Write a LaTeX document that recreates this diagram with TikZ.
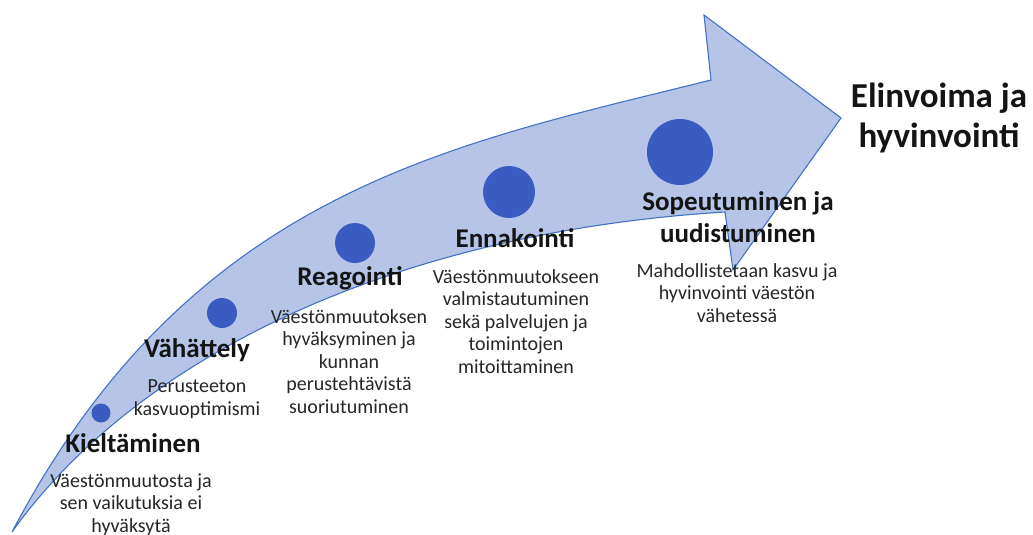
\documentclass[tikz,border=0pt]{standalone}
\usepackage{fontspec}
\setmainfont{Carlito}
\definecolor{arrowfill}{RGB}{181,196,231}
\definecolor{arrowline}{RGB}{68,114,196}
\definecolor{dotblue}{RGB}{58,92,193}
\definecolor{txt}{RGB}{20,20,20}
\definecolor{desc}{RGB}{38,38,38}
\begin{document}
\begin{tikzpicture}[x=1pt,y=-1pt,
  stage/.style={inner sep=0pt, anchor=base, align=center, text=txt,
    font=\fontsize{27}{32}\selectfont\bfseries},
  note/.style={inner sep=0pt, anchor=base, align=center, text=desc,
    font=\fontsize{20}{22.5}\selectfont},
  dot/.style={circle, fill=dotblue, inner sep=0pt, minimum size=#1}]
\useasboundingbox (0,0) rectangle (1033,535);
% big curved arrow
\draw[fill=arrowfill, draw=arrowline, line width=1.1pt, line join=miter]
  (12,532) .. controls (192,190) and (451,145) .. (711,80)
  -- (704,15) -- (841,118) -- (733,270) -- (725,212)
  .. controls (400,232) and (140,353) .. cycle;
% dots
\node[dot=19pt] (d1) at (101,413) {};
\node[dot=30pt] (d2) at (222,313) {};
\node[dot=40pt] (d3) at (355,243) {};
\node[dot=52pt] (d4) at (509,192) {};
\node[dot=66pt] (d5) at (680,152) {};
% stage labels (anchor = baseline of last line)
\node[stage] (s1) at (133,452) {Kieltäminen};
\node[note]  (n1) at (131,532) {Väestönmuutosta ja\\sen vaikutuksia ei\\hyväksytä};
\node[stage] (s2) at (197,357) {Vähättely};
\node[note]  (n2) at (197,415) {Perusteeton\\kasvuoptimismi};
\node[stage] (s3) at (350,285) {Reagointi};
\node[note]  (n3) at (349,413) {Väestönmuutoksen\\hyväksyminen ja\\kunnan\\perustehtävistä\\suoriutuminen};
\node[stage] (s4) at (515,247) {Ennakointi};
\node[note]  (n4) at (516,373) {Väestönmuutokseen\\valmistautuminen\\sekä palvelujen ja\\toimintojen\\mitoittaminen};
\node[stage] (s5) at (738,242) {Sopeutuminen ja\\uudistuminen};
\node[note]  (n5) at (737,322) {Mahdollistetaan kasvu ja\\hyvinvointi väestön\\vähetessä};
\node[stage, font=\fontsize{35}{40}\selectfont\bfseries] (goal) at (939,147) {Elinvoima ja\\hyvinvointi};
\end{tikzpicture}
\end{document}
